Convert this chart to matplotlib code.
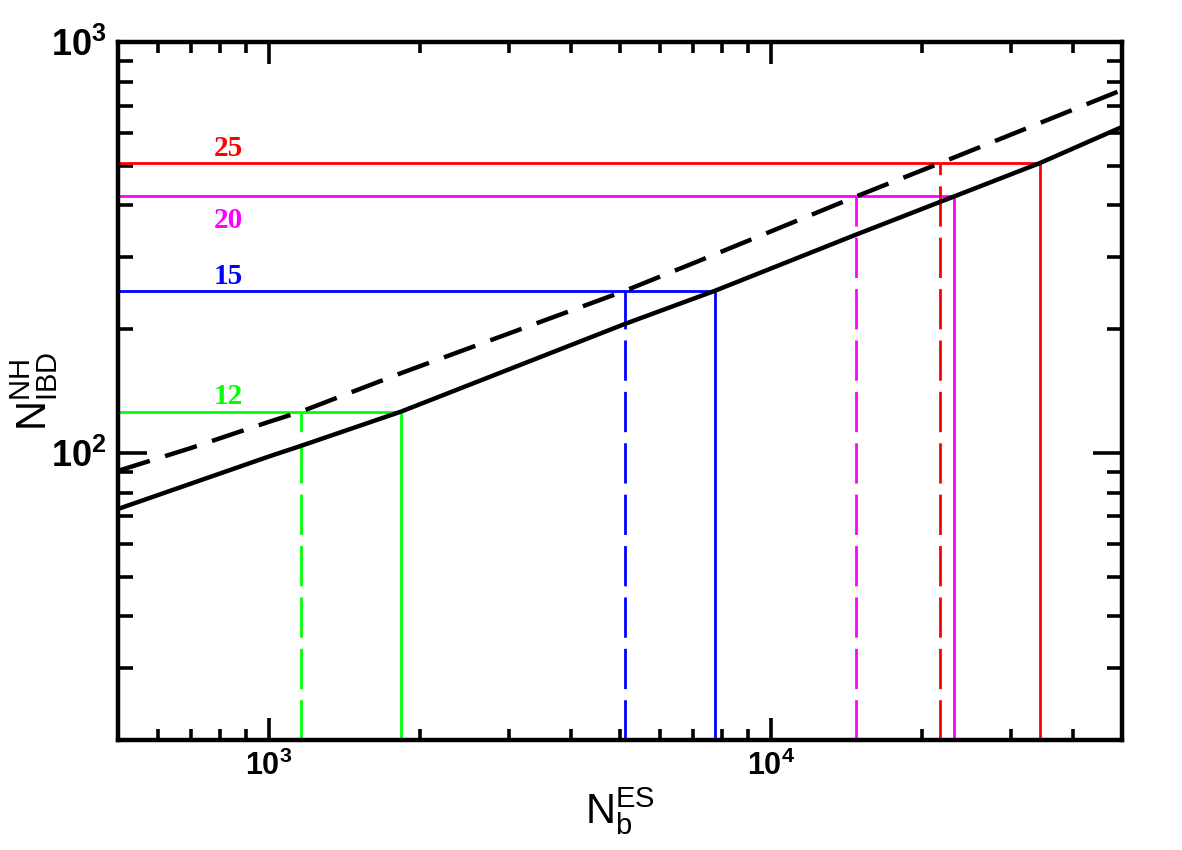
import matplotlib
matplotlib.use("Agg")
import matplotlib.pyplot as plt
from matplotlib.ticker import LogLocator, NullFormatter

# ---- data ----
# black solid curve
solid_x = [500, 1000, 1158, 1832, 5117, 7730, 14790, 23180, 34270, 50000]
solid_y = [73, 98, 104, 126, 206, 248, 340, 421, 507, 621]
# black dashed curve
dashed_x = [500, 700, 1000, 1158, 1824, 5117, 7222, 14790, 21690, 50000]
dashed_y = [90.4, 102.8, 119, 126, 156, 248, 294, 421, 507, 764]

# threshold levels
level_labels = ["12", "15", "20", "25"]
level_nibd = [126, 248, 421, 507]
level_nb_dashed = [1158, 5117, 14790, 21690]
level_nb_solid = [1832, 7730, 23180, 34270]
level_colors = ["#00ff00", "#0000ff", "#ff00ff", "#ff0000"]
label_offsets = [5.5, 5, -23, 5]  # points, baseline offset from line

xlim = (500, 50000)
ylim = (20, 1000)
x_major = [1e3, 1e4]
x_major_labels = [r"$\mathbf{10^{3}}$", r"$\mathbf{10^{4}}$"]
y_major = [1e2, 1e3]
y_major_labels = [r"$\mathbf{10^{2}}$", r"$\mathbf{10^{3}}$"]

plt.rcParams["mathtext.fontset"] = "custom"
plt.rcParams["mathtext.rm"] = "Liberation Sans"
plt.rcParams["mathtext.it"] = "Liberation Sans:italic"
plt.rcParams["mathtext.bf"] = "Liberation Sans:bold"
plt.rcParams["font.family"] = ["Liberation Sans", "DejaVu Sans"]

fig = plt.figure(figsize=(11.82, 8.5), dpi=100)
ax = fig.add_axes([0.0998, 0.1294, 0.8494, 0.8212])
ax.set_xscale("log")
ax.set_yscale("log")
ax.set_xlim(*xlim)
ax.set_ylim(*ylim)

# colored guide lines
for lab, yv, xd, xs, c, off in zip(level_labels, level_nibd, level_nb_dashed,
                                    level_nb_solid, level_colors, label_offsets):
    ax.plot([xlim[0], xs], [yv, yv], color=c, lw=2.0, zorder=2, solid_capstyle="butt")
    ax.plot([xs, xs], [ylim[0], yv], color=c, lw=2.0, zorder=2, solid_capstyle="butt")
    ax.plot([xd, xd], [ylim[0], yv], color=c, lw=2.0, zorder=2,
            dashes=(14.5, 4), dash_capstyle="butt")
    ax.annotate(lab, xy=(830, yv), xytext=(0, off), textcoords="offset points",
                ha="center", va="baseline", color=c, fontsize=21,
                fontweight="bold", family=["Liberation Serif", "DejaVu Serif"])

# black curves
ax.plot(solid_x, solid_y, color="black", lw=3.2, zorder=3)
ax.plot(dashed_x, dashed_y, color="black", lw=3.2, zorder=3,
        dashes=(7.5, 3.6), dash_capstyle="butt")

# ticks
ax.set_xticks(x_major, labels=x_major_labels)
ax.set_yticks(y_major, labels=y_major_labels)
ax.xaxis.set_minor_locator(LogLocator(base=10, subs=range(2, 10)))
ax.yaxis.set_minor_locator(LogLocator(base=10, subs=range(2, 10)))
ax.xaxis.set_minor_formatter(NullFormatter())
ax.yaxis.set_minor_formatter(NullFormatter())

ax.tick_params(axis="both", which="both", direction="in", top=True, right=True)
ax.tick_params(axis="x", which="major", length=16, width=2.6, labelsize=22, pad=8)
ax.tick_params(axis="x", which="minor", length=8, width=2.6)
ax.tick_params(axis="y", which="major", length=21, width=2.6, labelsize=26, pad=8)
ax.tick_params(axis="y", which="minor", length=10.5, width=2.6)

for s in ax.spines.values():
    s.set_linewidth(3.2)

ax.set_xlabel(r"$\mathrm{N_{b}^{ES}}$", fontsize=30)
ax.set_ylabel(r"$\mathrm{N_{IBD}^{NH}}$", fontsize=30)
ax.xaxis.set_label_coords(0.5, -0.064)
ax.yaxis.set_label_coords(-0.058, 0.5)

fig.savefig("out.png", dpi=100)
